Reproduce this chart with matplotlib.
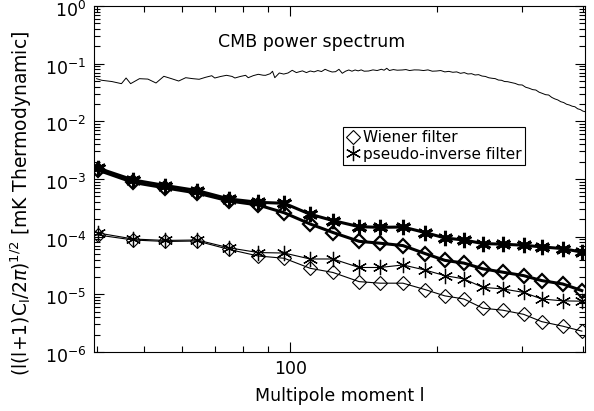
import matplotlib
matplotlib.use("Agg")
import matplotlib.pyplot as plt
import matplotlib.transforms as mtransforms
import numpy as np
from matplotlib.ticker import FixedLocator, FixedFormatter, NullFormatter
from matplotlib.lines import Line2D

# binned multipoles of the filter estimates
ell = [40.2, 47.6, 55.4, 64.4, 74.9, 86.0, 97.2, 109.9, 122.5, 138.6, 153.0,
       170.6, 189.3, 208.0, 227.6, 249.0, 273.7, 302.0, 329.0, 363.6, 397.8]

# thick lines (upper group)
wiener_thick = [1.43e-3, 8.7e-4, 7.0e-4, 5.7e-4, 4.16e-4, 3.54e-4, 2.6e-4, 1.66e-4,
                1.18e-4, 8.3e-5, 7.7e-5, 7.0e-5, 5.1e-5, 3.88e-5, 3.48e-5, 2.77e-5,
                2.42e-5, 2.11e-5, 1.73e-5, 1.51e-5, 1.16e-5]
pinv_thick = [1.55e-3, 9.6e-4, 7.7e-4, 6.3e-4, 4.5e-4, 3.94e-4, 3.79e-4, 2.45e-4,
              1.9e-4, 1.49e-4, 1.45e-4, 1.47e-4, 1.18e-4, 9.5e-5, 8.75e-5, 7.6e-5,
              7.4e-5, 7.1e-5, 6.65e-5, 6.2e-5, 5.4e-5]

# thin lines (lower group)
wiener_thin = [1.07e-4, 8.75e-5, 8.25e-5, 8.4e-5, 6.0e-5, 4.62e-5, 4.22e-5, 2.83e-5,
               2.39e-5, 1.66e-5, 1.56e-5, 1.56e-5, 1.21e-5, 9.4e-6, 8.3e-6, 5.75e-6,
               5.3e-6, 4.5e-6, 3.36e-6, 2.8e-6, 2.3e-6]
pinv_thin = [1.16e-4, 9.1e-5, 8.6e-5, 8.75e-5, 6.4e-5, 5.3e-5, 5.2e-5, 4.1e-5,
             4.1e-5, 2.92e-5, 2.92e-5, 3.23e-5, 2.64e-5, 2.11e-5, 1.85e-5, 1.32e-5,
             1.24e-5, 1.08e-5, 8.3e-6, 7.7e-6, 7.6e-6]

# CMB power spectrum
cmb_l = [40, 41, 43, 45, 46, 47, 49, 51, 53, 55, 57, 59, 61, 63, 65, 67, 69, 70, 72, 74,
         76, 77, 79, 81, 82, 84, 86, 88, 89, 91, 92, 93, 95, 97, 99, 101, 103, 104, 106,
         108, 110, 112, 114, 116, 118, 120, 122, 124, 126, 128, 130, 132, 134, 136, 138,
         140, 142, 145, 148, 151, 154, 156, 158, 160, 163, 166, 170, 173, 176, 180, 184,
         188, 192, 196, 200, 204, 208, 212, 216, 220, 224, 228, 232, 236, 240, 244, 248,
         252, 256, 260, 264, 268, 272, 276, 280, 285, 290, 295, 300, 305, 310, 315, 320,
         325, 330, 335, 340, 345, 350, 355, 360, 365, 370, 375, 380, 385, 390, 395, 400, 404]
cmb_val = [0.0549, 0.0515, 0.049, 0.045, 0.0564, 0.045, 0.0549, 0.054, 0.0462, 0.0604,
           0.055, 0.050, 0.0571, 0.055, 0.0536, 0.058, 0.0618, 0.0564, 0.060, 0.0628,
           0.060, 0.0564, 0.060, 0.0628, 0.0571, 0.062, 0.0654, 0.063, 0.0628, 0.067,
           0.0738, 0.0571, 0.0689, 0.066, 0.0689, 0.0767, 0.070, 0.0717, 0.075, 0.070,
           0.0746, 0.072, 0.076, 0.073, 0.0798, 0.075, 0.0717, 0.0726, 0.0798, 0.0681,
           0.074, 0.0777, 0.074, 0.0777, 0.075, 0.078, 0.074, 0.0746, 0.078, 0.076,
           0.080, 0.077, 0.0831, 0.076, 0.079, 0.077, 0.0777, 0.079, 0.076, 0.078,
           0.0777, 0.076, 0.078, 0.074, 0.0746, 0.076, 0.072, 0.0735, 0.0709, 0.072,
           0.068, 0.070, 0.0662, 0.067, 0.0636, 0.0645, 0.061, 0.060, 0.057, 0.0558,
           0.055, 0.052, 0.0515, 0.049, 0.0487, 0.047, 0.0455, 0.043, 0.0427, 0.039,
           0.0375, 0.0355, 0.0349, 0.032, 0.0305, 0.029, 0.0286, 0.026, 0.0245, 0.0235,
           0.0219, 0.0212, 0.0198, 0.0192, 0.0183, 0.0179, 0.0165, 0.0160, 0.0150, 0.0147]

ytick_vals = [1e-6, 1e-5, 1e-4, 1e-3, 1e-2, 1e-1, 1e0]
ytick_labels = [r'10$^{-6}$', r'10$^{-5}$', r'10$^{-4}$', r'10$^{-3}$',
                r'10$^{-2}$', r'10$^{-1}$', r'10$^{0}$']

plt.rcParams['font.family'] = ['DejaVu Sans']
plt.rcParams['mathtext.fontset'] = 'dejavusans'

fig = plt.figure(figsize=(5.94, 4.11), dpi=100)
ax = fig.add_axes([0.159, 0.1436, 0.826, 0.8418])

star = (6, 2, 0)
ax.plot(cmb_l, cmb_val, color='black', linewidth=0.7)
ax.plot(ell, wiener_thick, color='black', linewidth=2.2, marker='D', markersize=7.5,
        markerfacecolor='none', markeredgewidth=1.6)
ax.plot(ell, pinv_thick, color='black', linewidth=2.2, marker=star, markersize=11,
        markeredgewidth=2.2)
ax.plot(ell, wiener_thin, color='black', linewidth=0.8, marker='D', markersize=7.5,
        markerfacecolor='none', markeredgewidth=0.8)
ax.plot(ell, pinv_thin, color='black', linewidth=0.8, marker=star, markersize=11,
        markeredgewidth=0.9)

ax.set_xscale('log')
ax.set_yscale('log')
ax.set_xlim(39.6, 404)
ax.set_ylim(1e-6, 1)

ax.xaxis.set_major_locator(FixedLocator([100]))
ax.xaxis.set_major_formatter(FixedFormatter(['100']))
ax.xaxis.set_minor_locator(FixedLocator([40, 50, 60, 70, 80, 90, 200, 300, 400]))
ax.xaxis.set_minor_formatter(NullFormatter())
ax.yaxis.set_major_locator(FixedLocator(ytick_vals))
ax.yaxis.set_major_formatter(FixedFormatter(ytick_labels))
yminor = [m * 10.0 ** e for e in range(-6, 0) for m in range(2, 10)]
ax.yaxis.set_minor_locator(FixedLocator(yminor))
ax.yaxis.set_minor_formatter(NullFormatter())

ax.tick_params(which='both', direction='in', top=True, right=True, width=0.8,
               labelsize=12.5, pad=6)
ax.tick_params(which='major', length=7)
ax.tick_params(which='minor', length=4)
for s in ax.spines.values():
    s.set_linewidth(0.8)

# nudge y tick labels a little below their ticks, as in the original
shift = mtransforms.ScaledTranslation(0, -3 / 100, fig.dpi_scale_trans)
for lab in ax.get_yticklabels():
    lab.set_transform(lab.get_transform() + shift)

ax.set_xlabel('Multipole moment l', fontsize=12.5, labelpad=6)
fig.text(0.036, 0.505, r'(l(l+1)C$_\mathregular{l}$/2$\pi$)$^{1/2}$ [mK Thermodynamic]',
         rotation=90, ha='center', va='center', fontsize=13.5)

ax.text(0.4435, 0.896, 'CMB power spectrum', transform=ax.transAxes,
        ha='center', va='center', fontsize=12.5)

handles = [Line2D([], [], linestyle='none', marker='D', markersize=7.5, color='black',
                  markerfacecolor='none', markeredgewidth=0.8),
           Line2D([], [], linestyle='none', marker=star, markersize=11, color='black',
                  markeredgewidth=0.9)]
leg = ax.legend(handles, ['Wiener filter', 'pseudo-inverse filter'], loc='upper left',
                bbox_to_anchor=(0.507, 0.650), borderaxespad=0, fontsize=11,
                handlelength=0.9, handletextpad=0.2, borderpad=0.2, labelspacing=0.1,
                fancybox=False, framealpha=1, edgecolor='black')
leg.get_frame().set_linewidth(0.8)

plt.savefig('out.png', dpi=100)
